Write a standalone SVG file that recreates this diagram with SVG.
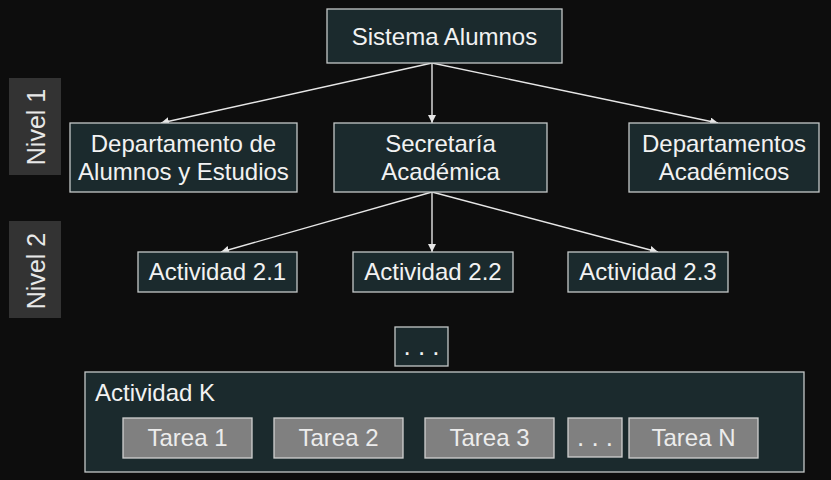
<svg xmlns="http://www.w3.org/2000/svg" width="831" height="480" viewBox="0 0 831 480">
<defs>
<style>
.n{fill:#1b2a2d;stroke:#c4c8c8;stroke-width:1.3}
.t{fill:#808080;stroke:#cfcfcf;stroke-width:1.3}
.lv{fill:#333333}
text{font-family:"Liberation Sans",Arial,sans-serif;font-size:24px;fill:#f2f2f2;text-anchor:middle}
.tt{fill:#ececec}
.c line{stroke:#e6e6e6;stroke-width:1.4;marker-end:url(#ah)}
</style>
<marker id="ah" viewBox="0 0 10 10" refX="10" refY="5" markerWidth="8" markerHeight="8" markerUnits="userSpaceOnUse" orient="auto">
<path d="M0,0 L10,5 L0,10 z" fill="#e6e6e6"/>
</marker>
</defs>
<rect width="831" height="480" fill="#0d0d0d"/>

<g id="nivel1">
<rect class="lv" x="9" y="78" width="52" height="97"/>
<text transform="translate(45,127) rotate(-90)" style="font-size:25px;fill:#e8e8e8">Nivel 1</text>
</g>
<g id="nivel2">
<rect class="lv" x="9" y="221" width="52" height="97"/>
<text transform="translate(45,271) rotate(-90)" style="font-size:25px;fill:#e8e8e8">Nivel 2</text>
</g>

<g class="c" id="connectors">
<line x1="432" y1="63" x2="161" y2="123"/>
<line x1="432" y1="63" x2="432" y2="123"/>
<line x1="432" y1="63" x2="718" y2="123"/>
<line x1="432" y1="192" x2="221" y2="252"/>
<line x1="432" y1="192" x2="432" y2="252"/>
<line x1="432" y1="192" x2="658" y2="252"/>
</g>

<g id="sistema">
<rect class="n" x="327" y="9" width="235" height="54"/>
<text x="444.5" y="45">Sistema Alumnos</text>
</g>
<g id="depto-alumnos">
<rect class="n" x="70" y="123" width="227" height="69"/>
<text x="183.5" y="152">Departamento de</text>
<text x="183.5" y="180">Alumnos y Estudios</text>
</g>
<g id="secretaria">
<rect class="n" x="334" y="123" width="213" height="69"/>
<text x="440.5" y="152">Secretaría</text>
<text x="440.5" y="180">Académica</text>
</g>
<g id="deptos-academicos">
<rect class="n" x="629" y="123" width="190" height="69"/>
<text x="724" y="152">Departamentos</text>
<text x="724" y="180">Académicos</text>
</g>

<g id="act21">
<rect class="n" x="138" y="252" width="159" height="40"/>
<text x="217.5" y="279.5">Actividad 2.1</text>
</g>
<g id="act22">
<rect class="n" x="353" y="252" width="160" height="40"/>
<text x="433" y="279.5">Actividad 2.2</text>
</g>
<g id="act23">
<rect class="n" x="568" y="252" width="160" height="40"/>
<text x="648" y="279.5">Actividad 2.3</text>
</g>

<g id="dots">
<rect class="n" x="395" y="327" width="53" height="39"/>
<text x="421.5" y="355" style="font-size:26px">. . .</text>
</g>

<g id="actividadK">
<rect class="n" x="85" y="372" width="719" height="100"/>
<text x="95" y="401" style="text-anchor:start">Actividad K</text>
</g>
<g id="tarea1">
<rect class="t" x="123" y="418" width="129" height="40"/>
<text class="tt" x="187.5" y="446">Tarea 1</text>
</g>
<g id="tarea2">
<rect class="t" x="274" y="418" width="129" height="40"/>
<text class="tt" x="338.5" y="446">Tarea 2</text>
</g>
<g id="tarea3">
<rect class="t" x="425" y="418" width="129" height="40"/>
<text class="tt" x="489.5" y="446">Tarea 3</text>
</g>
<g id="tarea-dots">
<rect class="t" x="568" y="418" width="54" height="39"/>
<text class="tt" x="595" y="446" style="font-size:26px">. . .</text>
</g>
<g id="tareaN">
<rect class="t" x="629" y="418" width="129" height="40"/>
<text class="tt" x="693.5" y="446">Tarea N</text>
</g>
</svg>
